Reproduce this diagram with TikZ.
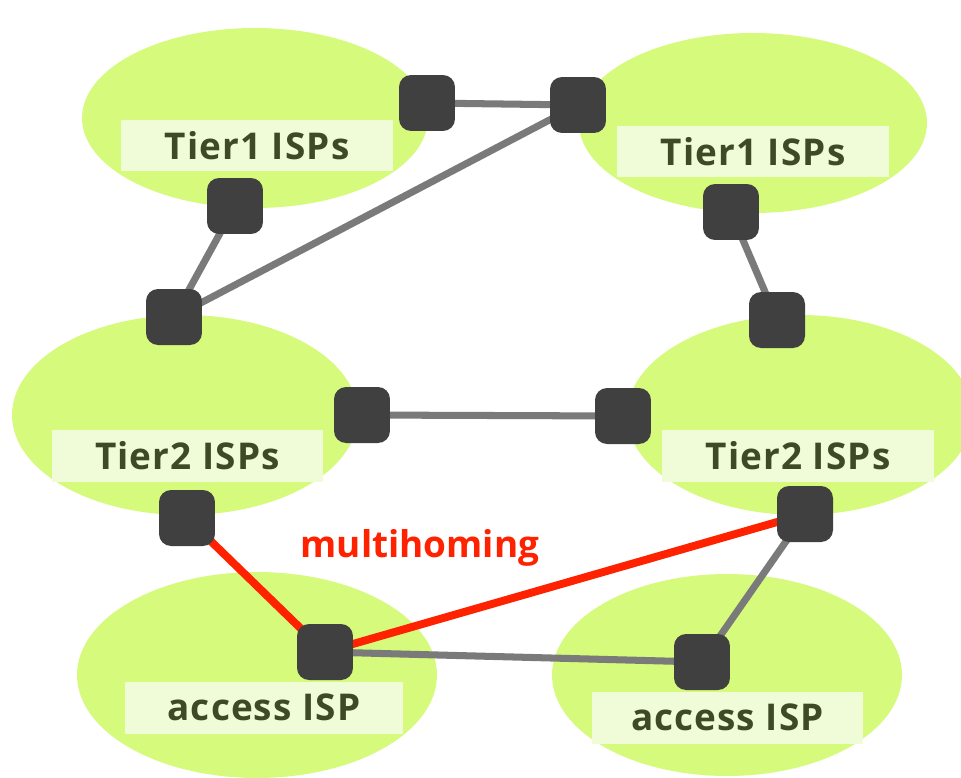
\documentclass[tikz,border=0pt]{standalone}
\usepackage{fontspec}
\setmainfont{Open Sans}
\usetikzlibrary{shapes.geometric}
\pgfdeclarelayer{bg}
\pgfdeclarelayer{links}
\pgfsetlayers{bg,links,main}
\definecolor{cloud}{RGB}{214,250,124}
\definecolor{labelbg}{RGB}{240,252,215}
\definecolor{labeltext}{RGB}{61,74,37}
\definecolor{router}{RGB}{64,64,64}
\definecolor{linkgray}{RGB}{122,122,122}
\definecolor{linkred}{RGB}{255,34,0}
\tikzset{
  cloudnode/.style={ellipse, fill=cloud, inner sep=0pt},
  isplabel/.style={fill=labelbg, inner sep=0pt, minimum height=1.04cm, minimum width=5.44cm,
    text=labeltext, font=\fontsize{21}{24}\selectfont\bfseries\addfontfeature{LetterSpace=3}},
  routerbox/.style={fill=router, rounded corners=0.24cm, minimum width=1.12cm, minimum height=1.12cm, inner sep=0pt},
  graylink/.style={draw=linkgray, line width=4pt},
  redlink/.style={draw=linkred, line width=4.5pt},
}
\begin{document}
\begin{tikzpicture}[x=0.02cm, y=-0.02cm]
\clip (0,0) rectangle (961,778);
\begin{pgfonlayer}{bg}
\fill[white] (0,0) rectangle (961,778);
% clouds
\node[cloudnode, minimum width=6.92cm, minimum height=3.6cm] (e1) at (255,118) {};
\node[cloudnode, minimum width=6.96cm, minimum height=3.6cm] (e2) at (753,123) {};
\node[cloudnode, minimum width=6.92cm, minimum height=4.0cm] (e3) at (185,415) {};
\node[cloudnode, minimum width=6.92cm, minimum height=4.0cm] (e4) at (800,415) {};
\node[cloudnode, minimum width=7.2cm, minimum height=4.12cm] (e5) at (257,675) {};
\node[cloudnode, minimum width=7.0cm, minimum height=4.04cm] (e6) at (727,675) {};
% labels
\node[isplabel] (l1) at (257,145.5) {Tier1 ISPs};
\node[isplabel] (l2) at (753,151.5) {Tier1 ISPs};
\node[isplabel] (l3) at (187.5,456) {Tier2 ISPs};
\node[isplabel] (l4) at (798,456) {Tier2 ISPs};
\node[isplabel, minimum width=5.56cm] (l5) at (264,707.5) {access ISP};
\node[isplabel] (l6) at (727.5,717.5) {access ISP};
\end{pgfonlayer}
% routers
\node[routerbox] (r1) at (427,103) {};
\node[routerbox] (r2) at (578,105) {};
\node[routerbox] (r3) at (235,206) {};
\node[routerbox] (r4) at (731,212) {};
\node[routerbox] (r5) at (174,317) {};
\node[routerbox] (r6) at (777,320) {};
\node[routerbox] (r7) at (362,415) {};
\node[routerbox] (r8) at (623,416) {};
\node[routerbox] (r9) at (187,518) {};
\node[routerbox] (r10) at (805,514) {};
\node[routerbox] (r11) at (325,652) {};
\node[routerbox] (r12) at (702,662) {};
% links
\begin{pgfonlayer}{links}
\path[graylink] (r1.center) -- (r2.center);
\path[graylink] (r2.center) -- (r5.center);
\path[graylink] (r3.center) -- (r5.center);
\path[graylink] (r4.center) -- (r6.center);
\path[graylink] (r7.center) -- (r8.center);
\path[graylink] (r10.center) -- (r12.center);
\path[graylink] (r11.center) -- (r12.center);
\path[redlink] (r9.center) -- (r11.center);
\path[redlink] (r11.center) -- (r10.center);
\end{pgfonlayer}
\node[text=linkred, font=\fontsize{21}{25}\selectfont\bfseries] (mh) at (420,548) {multihoming};
\end{tikzpicture}
\end{document}
